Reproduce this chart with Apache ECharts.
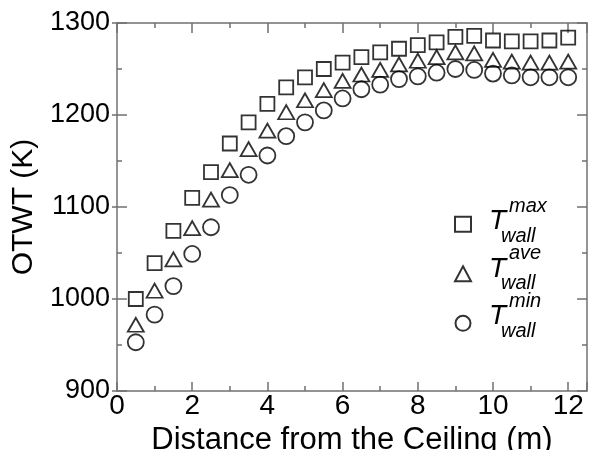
<!DOCTYPE html>
<html><head><meta charset="utf-8">
<script src="https://cdn.jsdelivr.net/npm/echarts@6/dist/echarts.min.js"></script>
<style>html,body{margin:0;padding:0;background:#fff}#c{width:589px;height:450px}</style>
</head><body><div id="c"></div>
<script>
const distance = [0.5,1,1.5,2,2.5,3,3.5,4,4.5,5,5.5,6,6.5,7,7.5,8,8.5,9,9.5,10,10.5,11,11.5,12];
const tMax = [1000,1039,1074,1110,1138,1169,1192,1212,1230,1241,1250,1257,1263,1268,1272,1276,1279,1285,1286,1281,1280,1280,1281,1284];
const tAve = [972,1009,1043,1077,1108,1140,1163,1183,1203,1216,1227,1237,1244,1249,1255,1259,1263,1268,1267,1260,1258,1257,1257,1258];
const tMin = [953,983,1014,1049,1078,1113,1135,1156,1177,1192,1205,1218,1228,1233,1239,1242,1246,1250,1249,1245,1243,1241,1241,1241];
const xTickLabels = [0,2,4,6,8,10,12];
const yTickLabels = [900,1000,1100,1200,1300];
const seriesNames = ['max','ave','min'];
const legendSub = 'wall';

const FONT = 'Liberation Sans';
const AX = '#707070';
const lineSt = {color: AX, width: 1.5};

function xAx(pos, interval, len, opts) {
  return Object.assign({
    type: 'value', position: pos, min: 0, max: 12.5, interval: interval,
    axisLine: {show: false, onZero: false, lineStyle: lineSt},
    axisTick: {show: true, inside: true, length: len, lineStyle: lineSt},
    axisLabel: {show: false},
    splitLine: {show: false}
  }, opts || {});
}
function yAx(pos, interval, len, inside, opts) {
  return Object.assign({
    type: 'value', position: pos, min: 900, max: 1300, interval: interval,
    axisLine: {show: false, onZero: false, lineStyle: lineSt},
    axisTick: {show: true, inside: inside, length: len, lineStyle: lineSt},
    axisLabel: {show: false},
    splitLine: {show: false}
  }, opts || {});
}

// legend label texts (T with superscript / subscript), placed next to the legend icons
const LEG_TOP = 223.3, LEG_STEP = 47.5;
const legendText = [];
seriesNames.forEach((n, i) => {
  const yc = LEG_TOP + LEG_STEP * i;
  const st = {fill: '#000', fontFamily: FONT, fontStyle: 'italic', textAlign: 'left', textVerticalAlign: 'middle'};
  legendText.push({type: 'text', x: 489, y: yc - 1.6, silent: true,
    style: Object.assign({}, st, {text: 'T', fontSize: 28})});
  legendText.push({type: 'text', x: 509, y: yc - 17, silent: true,
    style: Object.assign({}, st, {text: n, fontSize: 20})});
  legendText.push({type: 'text', x: 501, y: yc + 13, silent: true,
    style: Object.assign({}, st, {text: legendSub, fontSize: 20})});
});

const chart = echarts.init(document.getElementById('c'), null, {renderer: 'canvas'});
const sym = {color: 'rgba(255,255,255,0)', borderColor: '#000', borderWidth: 1.8};
chart.setOption({
  animation: false,
  backgroundColor: '#fff',
  grid: {left: 117, right: 2, top: 23, bottom: 59, containLabel: false, outerBoundsMode: 'none'},
  xAxis: [
    xAx('bottom', 2, 9, {
      axisLine: {show: true, onZero: false, lineStyle: lineSt},
      axisLabel: {show: true, fontSize: 28, color: '#000', fontFamily: FONT, margin: 1,
        formatter: v => xTickLabels.includes(v) ? String(v) : ''},
      name: 'Distance from the Ceiling (m)', nameLocation: 'middle', nameGap: 26,
      nameTextStyle: {fontSize: 31, color: '#000', fontFamily: FONT}
    }),
    xAx('bottom', 1, 5),
    xAx('top', 2, 10, {axisLine: {show: true, onZero: false, lineStyle: lineSt}}),
    xAx('top', 1, 5)
  ],
  yAxis: [
    yAx('left', 100, 10, true, {
      axisLine: {show: true, onZero: false, lineStyle: lineSt},
      axisLabel: {show: true, fontSize: 27, color: '#000', fontFamily: FONT, margin: 7,
        formatter: v => yTickLabels.includes(v) ? String(v) : ''},
      name: 'OTWT (K)', nameLocation: 'middle', nameGap: 77,
      nameTextStyle: {fontSize: 30, color: '#000', fontFamily: FONT}
    }),
    yAx('left', 50, 5, true),
    yAx('left', 100, 5, false),
    yAx('right', 100, 10, true, {axisLine: {show: true, onZero: false, lineStyle: lineSt}}),
    yAx('right', 50, 5, true)
  ],
  legend: {
    orient: 'vertical', left: 454, top: LEG_TOP - 7.5, padding: 0,
    itemWidth: 16, itemHeight: 15, itemGap: LEG_STEP - 15,
    selectedMode: false,
    data: [{name: 'max', icon: 'rect'}, {name: 'ave', icon: 'triangle'}, {name: 'min', icon: 'circle'}],
    formatter: () => '',
    textStyle: {fontSize: 1}
  },
  graphic: legendText,
  series: [
    {type: 'scatter', name: seriesNames[0], symbol: 'rect', symbolSize: 14, itemStyle: sym,
     data: distance.map((x, i) => [x, tMax[i]]), emphasis: {disabled: true}},
    {type: 'scatter', name: seriesNames[1], symbol: 'triangle', symbolSize: [16, 14], itemStyle: sym,
     data: distance.map((x, i) => [x, tAve[i]]), emphasis: {disabled: true}},
    {type: 'scatter', name: seriesNames[2], symbol: 'circle', symbolSize: 16, itemStyle: sym,
     data: distance.map((x, i) => [x, tMin[i]]), emphasis: {disabled: true}}
  ]
});
</script></body></html>
